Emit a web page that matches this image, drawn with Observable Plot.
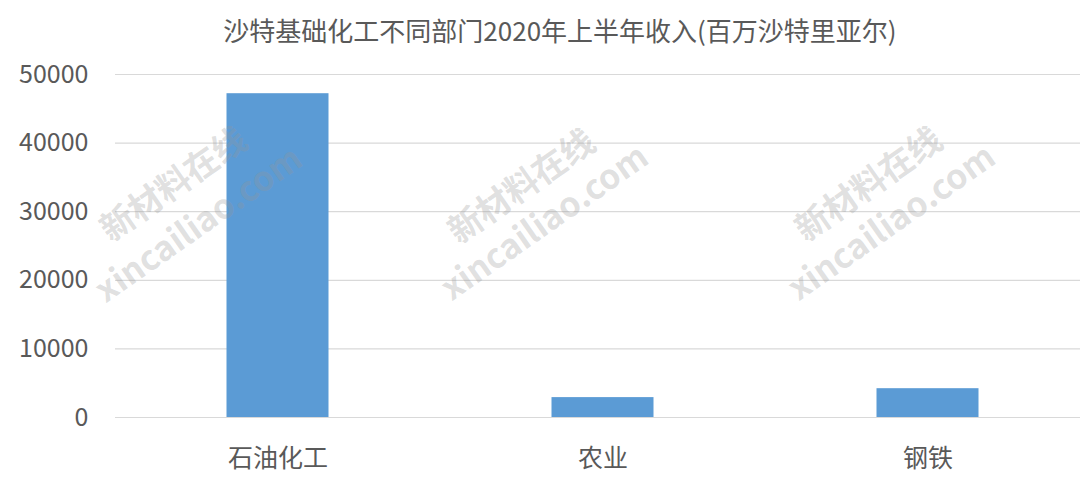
<!DOCTYPE html>
<html>
<head>
<meta charset="utf-8">
<script src="https://cdn.jsdelivr.net/npm/d3@7"></script>
<script src="https://cdn.jsdelivr.net/npm/@observablehq/plot@0.6"></script>
<style>
  html, body { margin: 0; padding: 0; background: #fff; }
  #wrap { position: relative; width: 1080px; height: 492px; overflow: hidden; font-family: "Noto Sans CJK SC", "Noto Sans", sans-serif; }
  #title { height: 40px; line-height: 60px; text-align: center; font-size: 26px; color: #595959; padding-left: 40px; box-sizing: border-box; }
  .wm { position: absolute; font-weight: bold; font-size: 34px; color: rgba(150,150,150,0.3); transform: translate(-50%, -50%) rotate(-35deg); white-space: nowrap; pointer-events: none; font-family: "Noto Sans CJK SC", "Noto Sans", sans-serif; }
  svg { overflow: visible; }
</style>
</head>
<body>
<div id="wrap">
  <div id="title">沙特基础化工不同部门2020年上半年收入(百万沙特里亚尔)</div>
  <div id="chart"></div>
</div>
<script>
const categories = ["石油化工", "农业", "钢铁"];
const values = [47200, 2900, 4200];
const yTicks = [0, 10000, 20000, 30000, 40000, 50000];
const watermarkCn = "新材料在线";
const watermarkEn = "xincailiao.com";

const data = categories.map((c, i) => ({category: c, value: values[i]}));

const chart = Plot.plot({
  width: 1080,
  height: 452,
  marginTop: 34,
  marginBottom: 75,
  marginLeft: 115,
  marginRight: 0,
  style: {fontFamily: '"Noto Sans CJK SC", "Noto Sans", sans-serif', fontSize: "25px", color: "#595959", background: "#fff"},
  x: {domain: categories, range: [115, 1090], padding: 0, label: null},
  y: {domain: [0, 50000], label: null},
  marks: [
    Plot.ruleY(yTicks, {stroke: "#d9d9d9", strokeWidth: 1.2}),
    Plot.barY(data, {x: "category", y: "value", fill: "#5b9bd5", insetLeft: 111.5, insetRight: 111.5}),
    Plot.axisY(yTicks, {tickSize: 0, tickPadding: 27, tickFormat: d => String(d), fontSize: 25, fill: "#595959", label: null}),
    Plot.axisX({tickSize: 0, tickPadding: 32, fontSize: 25, fill: "#595959", label: null})
  ]
});
document.getElementById("chart").appendChild(chart);

const wrap = document.getElementById("wrap");
const groups = [[172, 182, 197, 222], [520, 184, 543, 220], [867, 182, 890, 220]];
for (const [x1, y1, x2, y2] of groups) {
  const a = document.createElement("div");
  a.className = "wm"; a.textContent = watermarkCn;
  a.style.left = x1 + "px"; a.style.top = y1 + "px";
  wrap.appendChild(a);
  const b = document.createElement("div");
  b.className = "wm"; b.textContent = watermarkEn;
  b.style.left = x2 + "px"; b.style.top = y2 + "px";
  wrap.appendChild(b);
}
</script>
</body>
</html>
